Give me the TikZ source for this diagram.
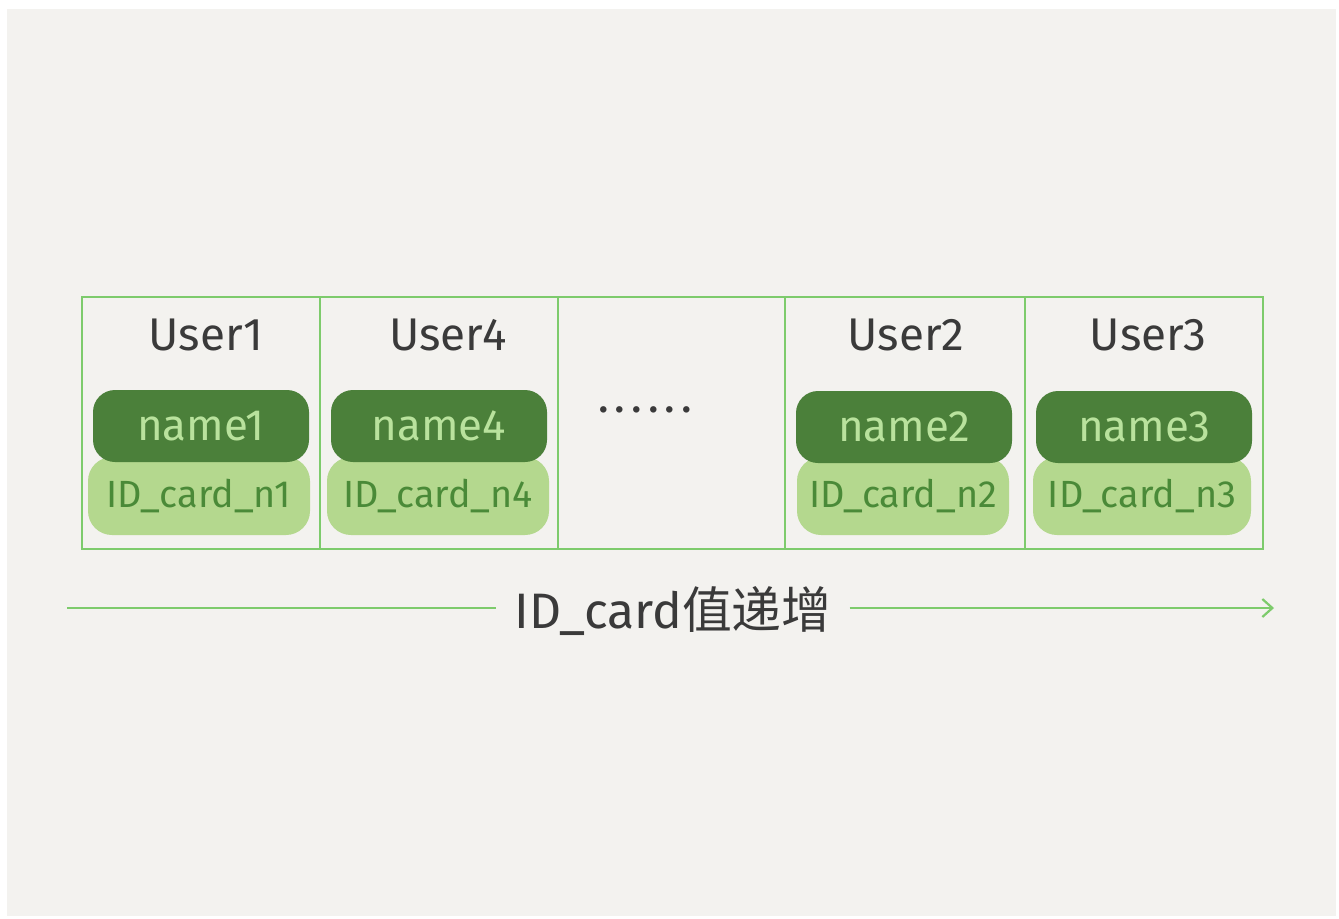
\documentclass[tikz,border=0pt]{standalone}
\usepackage{fontspec}
\setmainfont{Fira Sans}
\newfontfamily\cjkfont{Noto Sans CJK SC}
\usetikzlibrary{arrows.meta}
\definecolor{bgc}{HTML}{F3F2EF}
\definecolor{bordc}{HTML}{7DCB6C}
\definecolor{darkpill}{HTML}{4B803A}
\definecolor{lightpill}{HTML}{B4D88E}
\definecolor{nametxt}{HTML}{B9E29D}
\definecolor{idtxt}{HTML}{4A8A38}
\definecolor{inkc}{HTML}{3A3A3A}
\tikzset{
  cellbox/.style={draw=bordc, line width=2.5bp, minimum width=238bp, minimum height=252bp, inner sep=0pt},
  usertxt/.style={text=inkc, font=\fontsize{46}{48}\selectfont},
  namepill/.style={fill=darkpill, rounded corners=22bp, minimum width=216bp, minimum height=72bp, inner sep=0pt, text=nametxt, font=\fontsize{44}{46}\selectfont},
  idpill/.style={fill=lightpill, rounded corners=24bp, minimum width=222bp, minimum height=78bp, inner sep=0pt, text=idtxt, font=\fontsize{38}{40}\selectfont},
  flowline/.style={draw=bordc, line width=2.2bp},
}
\begin{document}
\begin{tikzpicture}[x=1bp,y=-1bp]
\useasboundingbox (0,0) rectangle (1339,918);
\fill[white] (0,0) rectangle (1339,918);
\fill[bgc] (7,9) rectangle (1336,916);
% cells
\node[cellbox] (c1) at (201,423) {};
\node[cellbox] (c2) at (439,423) {};
\node[cellbox, minimum width=227bp] (c3) at (671.5,423) {};
\node[cellbox, minimum width=240bp] (c4) at (905,423) {};
\node[cellbox] (c5) at (1144,423) {};
% users
\node[usertxt] (u1) at (206,335) {User1};
\node[usertxt] (u4) at (448,335) {User4};
\node[usertxt] (u2) at (906,335) {User2};
\node[usertxt] (u3) at (1148,335) {User3};
% light pills (behind)
\node[idpill] (i1) at (199,496) {ID\_card\_n1};
\node[idpill] (i4) at (438,496) {ID\_card\_n4};
\node[idpill, minimum width=212bp] (i2) at (903,496) {ID\_card\_n2};
\node[idpill, minimum width=218bp] (i3) at (1142,496) {ID\_card\_n3};
% dark pills
\node[namepill] (n1) at (201,426) {name1};
\node[namepill] (n4) at (439,426) {name4};
\node[namepill] (n2) at (904,427) {name2};
\node[namepill] (n3) at (1144,427) {name3};
% dots
\node[text=inkc, font=\bfseries\fontsize{36}{38}\selectfont] (dots) at (645,410) {.\hspace{8bp}.\hspace{8bp}.\hspace{8bp}.\hspace{8bp}.\hspace{8bp}.};
% axis
\coordinate (a0) at (67,608);
\coordinate (a1) at (1274,608);
\node[text=inkc, inner sep=18bp, font=\fontsize{50}{52}\selectfont] (lbl) at (673,611) {ID\_card\cjkfont 值递增};
\draw[flowline] (a0) -- (a0 -| lbl.west);
\draw[flowline, -{Straight Barb[length=10bp,width=18bp]}] (lbl.east |- a1) -- (a1);
\end{tikzpicture}
\end{document}
